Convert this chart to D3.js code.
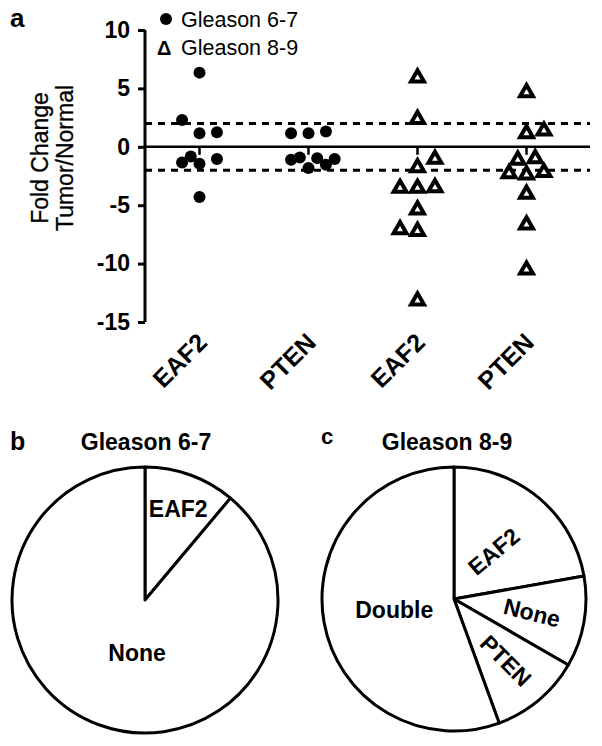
<!DOCTYPE html>
<html><head><meta charset="utf-8">
<script src="https://cdn.jsdelivr.net/npm/d3@7"></script>
<style>
body{margin:0;background:#fff;}
svg{font-family:"Liberation Sans",Arial,Helvetica,sans-serif;}
</style></head>
<body><svg id="c" width="602" height="746"></svg>
<script>
// ---------- data ----------
const categories = ["EAF2 (6-7)", "PTEN (6-7)", "EAF2 (8-9)", "PTEN (8-9)"];
const categoryLabels = ["EAF2", "PTEN", "EAF2", "PTEN"];
const groupSeries = ["Gleason 6-7", "Gleason 6-7", "Gleason 8-9", "Gleason 8-9"];
const eaf2Low  = [6.35, 2.3, 1.17, 1.25, -1.34, -0.83, -1.45, -1.05, -4.3];
const eaf2LowSlot  = [0, -2, 0, 2, -2, -1, 0, 2, 0];
const ptenLow  = [1.17, 1.17, 1.31, -1.11, -0.91, -1.82, -0.97, -1.54, -1.05];
const ptenLowSlot  = [-2, 0, 2, -2, -1, 0, 1, 2, 3];
const eaf2High = [6.0, 2.45, -0.97, -1.68, -3.45, -3.45, -3.4, -5.3, -7.0, -7.15, -13.1];
const eaf2HighSlot = [0, 0, 2, 0, -2, 0, 2, 0, -2, 0, 0];
const ptenHigh = [4.73, 1.22, 1.45, -1.05, -0.91, -2.2, -2.3, -2.1, -3.96, -6.58, -10.45];
const ptenHighSlot = [0, 0, 2, -1, 1, -2, 0, 2, 0, 0, 0];
const yTicks = [10, 5, 0, -5, -10, -15];
const thresholds = [2, -2];
const pieLowLabels = ["EAF2", "None"];
const pieLowCounts = [1, 8];
const pieHighLabels = ["EAF2", "None", "PTEN", "Double"];
const pieHighCounts = [2, 1, 1, 5];

// ---------- chart a ----------
const svg = d3.select("#c");
const x = d3.scaleBand().domain(categories).range([145, 581]);
const y = d3.scaleLinear().domain([-15, 10]).range([322, 30]);
const plotRight = 590;

svg.append("text").text("a").attr("x", 10).attr("y", 27)
  .attr("font-size", 26).attr("font-weight", "bold");

// threshold dashed lines
svg.selectAll("line.thr").data(thresholds).join("line")
  .attr("x1", 145).attr("x2", plotRight)
  .attr("y1", d => y(d)).attr("y2", d => y(d))
  .attr("stroke", "#000").attr("stroke-width", 3).attr("stroke-dasharray", "7,6");

// zero line with category ticks
svg.append("line").attr("x1", 145).attr("x2", plotRight)
  .attr("y1", y(0)).attr("y2", y(0)).attr("stroke", "#000").attr("stroke-width", 2.5);
svg.selectAll("line.ct").data(categories).join("line")
  .attr("x1", d => x(d) + x.bandwidth()/2).attr("x2", d => x(d) + x.bandwidth()/2)
  .attr("y1", y(0)).attr("y2", y(0) + 8).attr("stroke", "#000").attr("stroke-width", 2.5);

// y axis
const yAxis = d3.axisLeft(y).tickValues(yTicks).tickSize(7).tickPadding(8).tickFormat(d => String(d));
const ga = svg.append("g").attr("transform", "translate(145,0)").call(yAxis);
ga.select(".domain").attr("stroke-width", 3).attr("d", `M0,${y(10)}V${y(-15)}`);
ga.selectAll(".tick line").attr("stroke-width", 3);
ga.selectAll(".tick text").attr("font-size", 23).attr("font-weight", "bold")
  .attr("font-family", "'Liberation Sans',Arial,sans-serif").attr("fill", "#000");

// y title
const yt = svg.append("text").attr("transform", "translate(48,158) rotate(-90)")
  .attr("text-anchor", "middle").attr("font-size", 23)
  .attr("stroke", "#000").attr("stroke-width", 0.3);
yt.append("tspan").attr("x", 0).attr("y", 0).text("Fold Change");
yt.append("tspan").attr("x", 0).attr("y", 25).text("Tumor/Normal");

// x labels
svg.selectAll("text.xl").data(categories).join("text")
  .attr("transform", d => `translate(${x(d) + x.bandwidth()/2 + 9},344) rotate(-45)`)
  .attr("text-anchor", "end").attr("font-size", 25).attr("font-weight", "bold")
  .text((d, i) => categoryLabels[i]);

// points
const slotW = x.bandwidth() * 0.08;
const groups = [
  {cat: categories[0], vals: eaf2Low, slots: eaf2LowSlot, sym: "circle"},
  {cat: categories[1], vals: ptenLow, slots: ptenLowSlot, sym: "circle"},
  {cat: categories[2], vals: eaf2High, slots: eaf2HighSlot, sym: "tri"},
  {cat: categories[3], vals: ptenHigh, slots: ptenHighSlot, sym: "tri"}
];
const triPath = d3.symbol().type(d3.symbolTriangle).size(72)();
groups.forEach(g => {
  const pts = g.vals.map((v, i) => ({v, s: g.slots[i]}));
  const cx = x(g.cat) + x.bandwidth()/2;
  if (g.sym === "circle") {
    svg.selectAll(null).data(pts).join("circle")
      .attr("cx", d => cx + d.s * slotW).attr("cy", d => y(d.v)).attr("r", 6).attr("fill", "#000");
  } else {
    svg.selectAll(null).data(pts).join("path")
      .attr("d", triPath)
      .attr("transform", d => `translate(${cx + d.s * slotW},${y(d.v) + 1})`)
      .attr("fill", "#fff").attr("stroke", "#000").attr("stroke-width", 4).attr("stroke-linejoin", "miter");
  }
});

// legend
svg.append("circle").attr("cx", 166).attr("cy", 19).attr("r", 6).attr("fill", "#000");
svg.append("text").attr("x", 181).attr("y", 27).attr("font-size", 21.5).text(groupSeries[0]);
svg.append("text").attr("x", 157).attr("y", 55).attr("font-size", 20).attr("font-weight", "bold").text("Δ");
svg.append("text").attr("x", 181).attr("y", 55).attr("font-size", 21.5).text(groupSeries[2]);

// ---------- pies ----------
function drawPie(cx, cy, r, labels, counts, labelCfg) {
  const pie = d3.pie().sort(null).value(d => d.c);
  const arcs = pie(labels.map((l, i) => ({l, c: counts[i]})));
  const arc = d3.arc().innerRadius(0).outerRadius(r);
  const g = svg.append("g").attr("transform", `translate(${cx},${cy})`);
  g.selectAll("path").data(arcs).join("path").attr("d", arc)
    .attr("fill", "#fff").attr("stroke", "#000").attr("stroke-width", 3).attr("stroke-linejoin", "round");
  g.selectAll("text").data(arcs).join("text")
    .attr("transform", (d, i) => {
      const c = labelCfg[i];
      const a = (d.startAngle + d.endAngle) / 2 + (c.da || 0);
      const px = Math.sin(a) * r * c.rf, py = -Math.cos(a) * r * c.rf;
      return `translate(${px},${py}) rotate(${c.rot})`;
    })
    .attr("text-anchor", "middle").attr("dominant-baseline", "central")
    .attr("font-size", 23).attr("font-weight", "bold").text(d => d.data.l);
}

svg.append("text").text("b").attr("x", 10).attr("y", 450).attr("font-size", 25).attr("font-weight", "bold");
svg.append("text").text("Gleason 6-7").attr("x", 146).attr("y", 450).attr("text-anchor", "middle")
  .attr("font-size", 23).attr("font-weight", "bold");
drawPie(145, 600, 133, pieLowLabels, pieLowCounts, [
  {rf: 0.73, rot: 0}, {rf: 0.4, rot: 0, da: -0.2}
]);

svg.append("text").text("c").attr("x", 321).attr("y", 444).attr("font-size", 22).attr("font-weight", "bold");
svg.append("text").text("Gleason 8-9").attr("x", 447).attr("y", 450).attr("text-anchor", "middle")
  .attr("font-size", 23).attr("font-weight", "bold");
drawPie(454, 599, 132, pieHighLabels, pieHighCounts, [
  {rf: 0.47, rot: -40}, {rf: 0.6, rot: 14}, {rf: 0.61, rot: 45}, {rf: 0.46, rot: 0}
]);
</script></body></html>
